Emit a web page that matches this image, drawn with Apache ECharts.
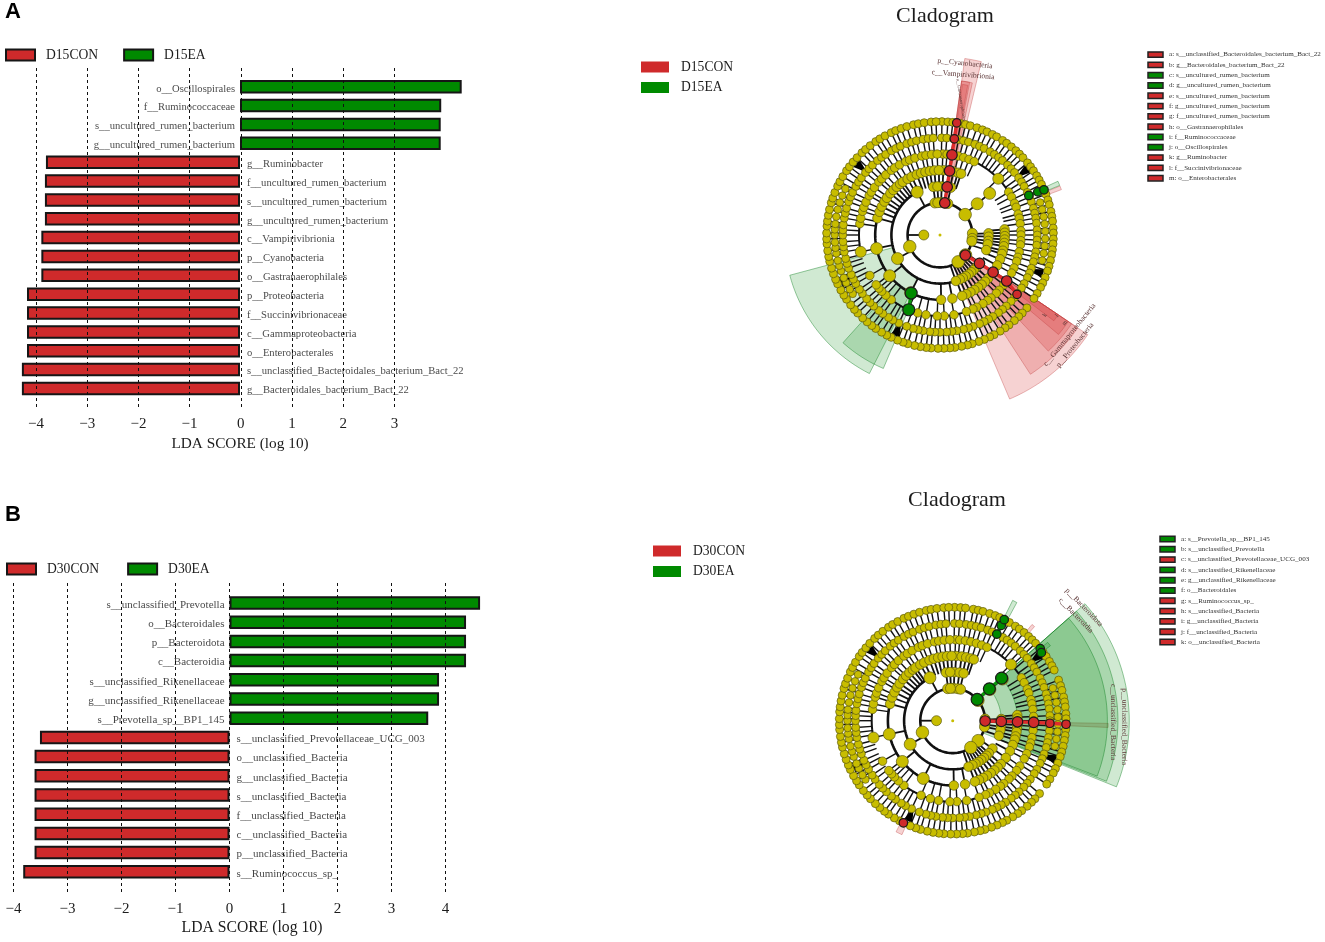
<!DOCTYPE html>
<html>
<head>
<meta charset="utf-8">
<title>LEfSe</title>
<script src="https://cdn.jsdelivr.net/npm/echarts@6/dist/echarts.min.js"></script>
<style>
	html, body { margin: 0; padding: 0; background: #fff; }
	#chart { width: 1325px; height: 942px; }
</style>
</head>
<body>
<div id="chart"></div>
<script>
// LDA bars, panel A
const d15Taxa = ['o__Oscillospirales', 'f__Ruminococcaceae', 's__uncultured_rumen_bacterium', 'g__uncultured_rumen_bacterium', 'g__Ruminobacter', 'f__uncultured_rumen_bacterium', 's__uncultured_rumen_bacterium', 'g__uncultured_rumen_bacterium', 'c__Vampirivibrionia', 'p__Cyanobacteria', 'o__Gastranaerophilales', 'p__Proteobacteria', 'f__Succinivibrionaceae', 'c__Gammaproteobacteria', 'o__Enterobacterales', 's__unclassified_Bacteroidales_bacterium_Bact_22', 'g__Bacteroidales_bacterium_Bact_22'];
const d15Scores = [4.33, 3.93, 3.92, 3.92, -3.79, -3.81, -3.81, -3.81, -3.88, -3.88, -3.88, -4.16, -4.16, -4.16, -4.16, -4.26, -4.26];

// LDA bars, panel B
const d30Taxa = ['s__unclassified_Prevotella', 'o__Bacteroidales', 'p__Bacteroidota', 'c__Bacteroidia', 's__unclassified_Rikenellaceae', 'g__unclassified_Rikenellaceae', 's__Prevotella_sp__BP1_145', 's__unclassified_Prevotellaceae_UCG_003', 'o__unclassified_Bacteria', 'g__unclassified_Bacteria', 's__unclassified_Bacteria', 'f__unclassified_Bacteria', 'c__unclassified_Bacteria', 'p__unclassified_Bacteria', 's__Ruminococcus_sp_'];
const d30Scores = [4.64, 4.38, 4.38, 4.38, 3.88, 3.88, 3.68, -3.51, -3.61, -3.61, -3.61, -3.61, -3.61, -3.61, -3.82];

// cladogram keys
const d15Key = ['a: s__unclassified_Bacteroidales_bacterium_Bact_22', 'b: g__Bacteroidales_bacterium_Bact_22', 'c: s__uncultured_rumen_bacterium', 'd: g__uncultured_rumen_bacterium', 'e: s__uncultured_rumen_bacterium', 'f: g__uncultured_rumen_bacterium', 'g: f__uncultured_rumen_bacterium', 'h: o__Gastranaerophilales', 'i: f__Ruminococcaceae', 'j: o__Oscillospirales', 'k: g__Ruminobacter', 'l: f__Succinivibrionaceae', 'm: o__Enterobacterales'];
const d15KeyGroup = [0, 0, 1, 1, 0, 0, 0, 0, 1, 1, 0, 0, 0];
const d30Key = ['a: s__Prevotella_sp__BP1_145', 'b: s__unclassified_Prevotella', 'c: s__unclassified_Prevotellaceae_UCG_003', 'd: s__unclassified_Rikenellaceae', 'e: g__unclassified_Rikenellaceae', 'f: o__Bacteroidales', 'g: s__Ruminococcus_sp_', 'h: s__unclassified_Bacteria', 'i: g__unclassified_Bacteria', 'j: f__unclassified_Bacteria', 'k: o__unclassified_Bacteria'];
const d30KeyGroup = [1, 1, 0, 1, 1, 1, 0, 0, 0, 0, 0];

// node angles on each cladogram ring (degrees clockwise from the top), same tree in both panels
const ring1 = [270];
const ring2 = [1, 9, 14, 51, 87, 96, 101, 128, 146, 249, 351, 356];
const ring3 = [2, 8, 13, 50, 88, 92, 97, 101, 108, 125, 132, 136, 140, 144, 148, 152, 156, 161, 241, 332, 352, 357];
const ring4 = [3, 8, 12, 16, 19, 50, 85, 88, 91, 94, 97, 100, 104, 107, 112, 118, 125, 132, 136, 140, 144, 148, 152, 156, 160, 169, 179, 207, 231, 258, 285, 291, 296, 301, 305, 310, 314, 318, 322, 325, 330, 334, 339, 343, 347, 351, 355, 359];
const ring5 = [2, 5, 9, 13, 17, 21, 25, 46, 58, 62, 67, 70, 75, 78, 82, 87, 90, 94, 97, 102, 106, 109, 114, 118, 124, 128, 133, 136, 141, 144, 148, 153, 156, 161, 170, 177, 182, 190, 196, 203, 217, 222, 226, 229, 232, 240, 258, 278, 282, 287, 290, 294, 299, 302, 306, 311, 314, 318, 323, 326, 330, 335, 338, 342, 347, 350, 354, 358];
const ring6 = [1, 4, 8, 11, 14, 17, 21, 24, 27, 31, 34, 37, 40, 44, 47, 50, 54, 57, 60, 64, 67, 70, 74, 77, 80, 83, 87, 90, 93, 96, 100, 103, 106, 110, 113, 116, 120, 123, 127, 130, 133, 137, 140, 143, 147, 150, 153, 156, 160, 163, 166, 170, 173, 176, 180, 183, 186, 190, 193, 196, 200, 205, 209, 212, 216, 219, 223, 226, 229, 233, 236, 240, 243, 246, 250, 253, 256, 260, 263, 266, 270, 273, 276, 280, 283, 286, 290, 293, 296, 300, 303, 306, 310, 313, 316, 320, 323, 326, 330, 333, 336, 340, 343, 346, 350, 353, 356];
const ring7 = [1, 4, 6.5, 10.5, 13, 15.5, 19, 22, 24.5, 27.5, 30, 33.5, 36, 39, 42, 44.5, 47, 50.5, 53, 55.5, 58.5, 61, 63.5, 69, 72, 74.5, 78, 80.5, 83, 86.5, 89, 92, 94.5, 97.5, 100, 103, 106, 108.5, 112, 115, 117.5, 121, 124, 130, 133.5, 136, 139, 142.5, 145, 148, 151.5, 154, 157, 160, 163.5, 166, 169, 172.5, 175, 178, 181, 184.5, 187, 190, 193, 196.5, 199, 202, 205.5, 208, 211, 214.5, 217, 220, 223, 226.5, 229, 232, 235.5, 238, 241, 244.5, 247, 250, 253, 256.5, 259, 262, 265.5, 268, 271, 274.5, 277, 280, 283, 286.5, 289, 292, 295.5, 298, 301, 304.5, 307, 310, 313, 316.5, 319, 322, 325.5, 328, 331, 334.5, 337, 340, 343, 346.5, 349, 352, 355.5, 358];
const rings = [ring1, ring2, ring3, ring4, ring5, ring6, ring7];
// second row of leaves just inside the outer ring, left and right sides only
const ring7Lower = [72, 76, 80, 84, 88, 92, 96, 100, 104, 236, 239, 243, 246, 250, 253, 256, 260, 263, 266, 270, 273, 276, 280, 284, 288, 292, 296];

// thick branches along a ring: [ring, from angle, to angle]
const branchArcs = [[2, 14, 87], [2, 101, 146], [2, 146, 351], [3, 161, 332], [3, 88, 108], [3, 125, 161], [4, 177, 301], [4, 85, 118], [5, 26, 46], [5, 46, 70], [5, 160, 232], [5, 258, 289], [6, 0, 360]];
const wedgeAngles = [53, 110.7, 204, 244, 310.6];

// enriched nodes, each list a lineage: [ring, angle]
const d15RedNodes = [
	[[2, 8.5], [3, 8.5], [4, 8.5], [5, 8.5], [6, 8.5], [7, 8.5]],
	[[2, 128.5], [3, 125.7], [4, 125], [5, 124.6], [6, 127.6]],
];
const d15GreenNodes = [
	[[4, 206.4], [5, 202.7]],
	[[6, 66], [6.6, 66.2], [7, 66.5]],
];
const d30RedNodes = [
	[[2, 90.5], [3, 90.8], [4, 91], [5, 91.2], [6, 91.5], [7, 91.8]],
	[[7, 205.8]],
];
const d30GreenNodes = [
	[[2, 49], [3, 49], [4, 49]],
	[[6, 27], [6.6, 27], [7, 27]],
	[[7, 50.5], [6.9, 52.5]],
];

// shaded clades: [inner ring, outer ring, from angle, to angle]
const d15RedClades = [[2, 11, 124, 157], [3, 10.25, 124, 147], [4, 9.8, 124, 137], [5, 9.55, 124, 130], [6, 8.8, 124, 127], [2, 11, 8, 13.4], [3, 9.6, 8, 12], [5, 9.6, 8, 11], [6, 9.4, 8.5, 10.5], [7, 8, 67.8, 69.5]];
const d15GreenClades = [[3, 9.6, 207, 255], [4, 8.95, 203, 222], [7, 8, 65.5, 67.5]];
const d30RedClades = [[2, 9.6, 91, 92.5], [7, 7.7, 39.5, 41], [7, 7.7, 204, 207]];
const d30GreenClades = [[2, 10.9, 48.5, 112], [3, 10.2, 48.5, 111.5], [4, 9.55, 48.5, 111], [6.9, 8.3, 26.5, 28.5], [7, 7.6, 50.5, 52.5]];

// clade names along the sectors
const d15CladeText = ['p__Cyanobacteria', 'c__Vampirivibrionia', 'o__Gastranaerophilales', 'p__Proteobacteria', 'c__Gammaproteobacteria', 'k', 'l', 'm'];
const d15CladeAt = [[10.7, 8.3], [10, 8.2], [8.45, 8.8], [10.75, 129.2], [10.1, 127.6], [8.15, 127.3], [8.78, 124.7], [9.43, 125.2]];
const d15CladeTurn = [-0.1, -0.08, -1.42, 0.89, 0.89, 0.9, 0.9, 0.9];
const d30CladeText = ['p__Bacteroidota', 'c__Bacteroidia', 'p__unclassified_Bacteria', 'c__unclassified_Bacteria'];
const d30CladeAt = [[10.7, 49.2], [10, 49.5], [10.6, 92], [9.9, 90.5]];
const d30CladeTurn = [-0.8, -0.8, -1.57, -1.57];

const SERIF = '"Liberation Serif", serif';
const RED = '#cf2a2b';
const GREEN = '#008a00';
const YELLOW = '#c8bd00';
const RING_PX = 16.2;
const RING_MAX = 12;
const RING_SIZE = [10, 10, 9.5, 9.5, 8.5, 8, 8];

function arcPoints(api, ring, from, to) {
	const points = [];
	for (let a = from; a < to; a += 2) points.push(api.coord([ring, a]));
	points.push(api.coord([ring, to]));
	return points;
}

function renderClade(fill, stroke) {
	return (params, api) => {
		const inner = arcPoints(api, api.value(0), api.value(2), api.value(3));
		const outer = arcPoints(api, api.value(1), api.value(2), api.value(3)).reverse();
		return {
			type: 'polygon',
			shape: { points: inner.concat(outer) },
			style: { fill, stroke, lineWidth: 0.8 },
		};
	};
}

function renderSpoke(params, api) {
	const ring = api.value(1);
	const p0 = api.coord([api.value(0), api.value(2)]);
	const p1 = api.coord([ring, api.value(2)]);
	return {
		type: 'line',
		shape: { x1: p0[0], y1: p0[1], x2: p1[0], y2: p1[1] },
		style: { stroke: '#111', lineWidth: ring <= 4 ? 1.8 : 1.4 },
	};
}

function renderArc(params, api) {
	const ring = api.value(0);
	return {
		type: 'polyline',
		shape: { points: arcPoints(api, ring, api.value(1), api.value(2)) },
		style: { stroke: '#111', fill: null, lineWidth: ring <= 4 ? 2.6 : (ring === 5 ? 2 : 1) },
	};
}

function renderWedge(params, api) {
	const a = api.value(0);
	return {
		type: 'polygon',
		shape: { points: [api.coord([5.9, a]), api.coord([6.8, a - 2.4]), api.coord([6.8, a + 2.4])] },
		style: { fill: '#000' },
	};
}

function renderLink(color) {
	return (params, api) => {
		const p0 = api.coord([api.value(0), api.value(1)]);
		const p1 = api.coord([api.value(2), api.value(3)]);
		return {
			type: 'line',
			shape: { x1: p0[0], y1: p0[1], x2: p1[0], y2: p1[1] },
			style: { stroke: color, lineWidth: 3.4 },
		};
	};
}

function renderCladeText(texts, turns, fill) {
	return (params, api) => {
		const p = api.coord([api.value(0), api.value(1)]);
		const text = texts[params.dataIndex];
		return {
			type: 'text',
			x: p[0],
			y: p[1],
			rotation: turns[params.dataIndex],
			style: {
				text,
				fill,
				fontFamily: SERIF,
				fontSize: text.length < 2 ? 6 : (text.startsWith('o__') ? 4.5 : 7.6),
				align: 'center',
				verticalAlign: 'middle',
			},
		};
	};
}

// bigger circles where a node stands alone on its ring
function yellowNodes() {
	const out = [];
	rings.forEach((ring, i) => {
		const sorted = ring.slice().sort((a, b) => a - b);
		sorted.forEach((a, j) => {
			const prev = sorted[(j + sorted.length - 1) % sorted.length];
			const next = sorted[(j + 1) % sorted.length];
			const gap = Math.min((a - prev + 360) % 360, (next - a + 360) % 360);
			const size = i > 0 && i < 5 && gap > 10 ? RING_SIZE[i] + 2.5 : RING_SIZE[i];
			out.push({ value: [i + 1, a], symbolSize: size });
		});
	});
	ring7Lower.forEach((a) => out.push({ value: [6.5, a], symbolSize: 7.5 }));
	return out;
}

function spokes() {
	const out = [[1, 2, 270]];
	rings.forEach((ring, i) => {
		if (i < 2) return;
		ring.forEach((a) => out.push([i, i + 1, a]));
	});
	return out;
}

function links(lineages) {
	const out = [];
	lineages.forEach((nodes) => {
		for (let i = 1; i < nodes.length; i++) out.push([nodes[i - 1][0], nodes[i - 1][1], nodes[i][0], nodes[i][1]]);
	});
	return out;
}

function cladogram(polarIndex, conName, eaName, p) {
	const polar = { coordinateSystem: 'polar', polarIndex, silent: true };
	const custom = (renderItem, data, z) => ({ ...polar, type: 'custom', renderItem, data, z, animation: false });
	const enriched = (name, color, lineages, big) => ({
		...polar,
		name,
		type: 'scatter',
		z: 6,
		itemStyle: { color, borderColor: '#1a1a1a', borderWidth: 1.2, opacity: 1 },
		data: lineages.flat().map((n) => ({
			value: n,
			symbolSize: n[0] <= 5 ? big : 8.5,
		})),
	});
	return [
		custom(renderClade('rgba(215,50,50,0.22)', 'rgba(190,60,60,0.45)'), p.redClades, 1),
		custom(renderClade('rgba(20,145,30,0.2)', 'rgba(0,120,20,0.5)'), p.greenClades, 1),
		custom(renderSpoke, spokes(), 2),
		custom(renderArc, branchArcs, 2),
		custom(renderWedge, wedgeAngles.map((a) => [a]), 3),
		{
			...polar,
			type: 'scatter',
			z: 4,
			itemStyle: { color: YELLOW, borderColor: '#5c5a10', borderWidth: 0.7, opacity: 1 },
			data: yellowNodes(),
		},
		{
			...polar,
			type: 'scatter',
			z: 4,
			symbolSize: 3,
			itemStyle: { color: YELLOW, opacity: 1 },
			data: [[0, 0]],
		},
		custom(renderLink('#e02b2c'), links(p.red), 5),
		custom(renderLink('#0c960c'), links(p.green), 5),
		enriched(conName, RED, p.red, 10.5),
		enriched(eaName, GREEN, p.green, 12),
		custom(renderCladeText(p.text, p.turn, '#5b3535'), p.at, 7),
	];
}

function barSeries(gridAxis, taxa, scores, conName, eaName, fontSize) {
	const bar = (name, color, keep) => ({
		name,
		type: 'bar',
		xAxisIndex: gridAxis,
		yAxisIndex: gridAxis,
		stack: name.slice(0, 3),
		barWidth: 13.5,
		z: 2,
		silent: true,
		itemStyle: { color, borderColor: '#161616', borderWidth: 2 },
		data: scores.map((v) => (keep(v) ? v : null)),
	});
	return [
		bar(conName, RED, (v) => v < 0),
		bar(eaName, GREEN, (v) => v > 0),
		{
			type: 'scatter',
			xAxisIndex: gridAxis,
			yAxisIndex: gridAxis,
			symbolSize: 0,
			z: 3,
			silent: true,
			data: taxa.map((t, i) => ({
				value: [0, i],
				label: {
					show: true,
					formatter: t,
					position: scores[i] > 0 ? 'left' : 'right',
					distance: scores[i] > 0 ? 5 : 7,
					offset: [0, 2],
					color: '#141414',
					fontFamily: SERIF,
					fontSize,
				},
			})),
		},
	];
}

function keyGraphics(keys, groups, left, top) {
	const out = [];
	keys.forEach((k, i) => {
		const y = top + i * 10.3;
		out.push({
			type: 'rect',
			shape: { x: left, y: y - 2.7, width: 15, height: 5.4 },
			style: { fill: groups[i] ? GREEN : RED, stroke: '#222', lineWidth: 1.5 },
		});
		out.push({
			type: 'text',
			x: left + 21,
			y,
			style: { text: k, fill: '#333', fontFamily: SERIF, fontSize: 7.1, verticalAlign: 'middle' },
		});
	});
	return out;
}

const legendText = { color: '#1c1c1c', fontFamily: SERIF, fontSize: 13.6, padding: [0, 0, 0, 6] };
const hiddenAxis = { show: false };

// grids 0/1 hold the bars, 2/3 only carry the dashed scale that runs over the bars
const grids = [
	{ left: 9.6, width: 460.8, top: 77.3, height: 320.6 },
	{ left: 2.7, width: 498.6, top: 593.4, height: 288 },
	{ left: 36, width: 358.4, top: 68, height: 339 },
	{ left: 13.5, width: 432, top: 583, height: 309 },
];

function barX(min, max, gridIndex, gap, fontSize) {
	return {
		type: 'value',
		gridIndex,
		min,
		max,
		name: 'LDA SCORE (log 10)',
		nameLocation: 'middle',
		nameGap: gap,
		nameTextStyle: { color: '#1c1c1c', fontFamily: SERIF, fontSize },
		axisLine: { show: false },
		axisTick: { show: false },
		axisLabel: { show: false },
		splitLine: { show: false },
	};
}

function scaleX(min, max, gridIndex) {
	return {
		type: 'value',
		gridIndex,
		min,
		max,
		interval: 1,
		z: 8,
		axisLine: { show: false },
		axisTick: { show: false },
		axisLabel: {
			color: '#1c1c1c',
			fontFamily: SERIF,
			fontSize: 15,
			margin: 10,
			formatter: (v) => String(v).replace('-', '\u2212'),
		},
		splitLine: { show: true, lineStyle: { color: '#111', width: 1, type: [3, 3] } },
	};
}

const option = {
	animation: false,
	backgroundColor: '#fff',
	title: [
		{ text: 'A', left: 0, top: -4, textStyle: { fontFamily: '"Liberation Sans"', fontSize: 22, fontWeight: 'bold', color: '#000' } },
		{ text: 'B', left: 0, top: 499, textStyle: { fontFamily: '"Liberation Sans"', fontSize: 22, fontWeight: 'bold', color: '#000' } },
		{ text: 'Cladogram', left: 940, top: 0, textAlign: 'center', textStyle: { fontFamily: SERIF, fontSize: 22, fontWeight: 'normal', color: '#1c1c1c' } },
		{ text: 'Cladogram', left: 952, top: 484, textAlign: 'center', textStyle: { fontFamily: SERIF, fontSize: 22, fontWeight: 'normal', color: '#1c1c1c' } },
	],
	legend: [
		{ data: ['D15CON', 'D15EA'], padding: 0, left: 5, top: 48, itemWidth: 29, itemHeight: 11, itemGap: 25, icon: 'rect', textStyle: legendText, selectedMode: false, itemStyle: { borderColor: '#161616', borderWidth: 2 } },
		{ data: ['D30CON', 'D30EA'], padding: 0, left: 6, top: 562, itemWidth: 29, itemHeight: 11, itemGap: 28, icon: 'rect', textStyle: legendText, selectedMode: false, itemStyle: { borderColor: '#161616', borderWidth: 2 } },
		{ data: ['D15CON', 'D15EA'], padding: 0, orient: 'vertical', left: 641, top: 60, itemWidth: 28, itemHeight: 11, itemGap: 6.5, icon: 'rect', textStyle: { ...legendText, padding: [0, 0, 0, 7] }, selectedMode: false, itemStyle: { borderWidth: 0 } },
		{ data: ['D30CON', 'D30EA'], padding: 0, orient: 'vertical', left: 653, top: 544, itemWidth: 28, itemHeight: 11, itemGap: 6.5, icon: 'rect', textStyle: { ...legendText, padding: [0, 0, 0, 7] }, selectedMode: false, itemStyle: { borderWidth: 0 } },
	],
	grid: grids,
	xAxis: [
		barX(-4.5, 4.5, 0, 39, 15.3),
		barX(-4.2, 5.033, 1, 38, 15.7),
		scaleX(-4, 3, 2),
		scaleX(-4, 4, 3),
	],
	yAxis: [
		{ type: 'category', gridIndex: 0, inverse: true, data: d15Taxa, ...hiddenAxis },
		{ type: 'category', gridIndex: 1, inverse: true, data: d30Taxa, ...hiddenAxis },
		{ type: 'value', gridIndex: 2, ...hiddenAxis },
		{ type: 'value', gridIndex: 3, ...hiddenAxis },
	],
	polar: [
		{ center: [940, 235], radius: RING_PX * RING_MAX },
		{ center: [952.7, 720.7], radius: RING_PX * RING_MAX },
	],
	angleAxis: [
		{ polarIndex: 0, type: 'value', min: 0, max: 360, startAngle: 90, clockwise: true, show: false },
		{ polarIndex: 1, type: 'value', min: 0, max: 360, startAngle: 90, clockwise: true, show: false },
	],
	radiusAxis: [
		{ polarIndex: 0, type: 'value', min: 0, max: RING_MAX, show: false },
		{ polarIndex: 1, type: 'value', min: 0, max: RING_MAX, show: false },
	],
	graphic: { elements: keyGraphics(d15Key, d15KeyGroup, 1148, 54.6).concat(keyGraphics(d30Key, d30KeyGroup, 1160, 539)) },
	series: [
		...barSeries(0, d15Taxa, d15Scores, 'D15CON', 'D15EA', 10.6),
		...barSeries(1, d30Taxa, d30Scores, 'D30CON', 'D30EA', 11),
		...cladogram(0, 'D15CON', 'D15EA', {
			red: d15RedNodes,
			green: d15GreenNodes,
			redClades: d15RedClades,
			greenClades: d15GreenClades,
			text: d15CladeText,
			at: d15CladeAt,
			turn: d15CladeTurn,
		}),
		...cladogram(1, 'D30CON', 'D30EA', {
			red: d30RedNodes,
			green: d30GreenNodes,
			redClades: d30RedClades,
			greenClades: d30GreenClades,
			text: d30CladeText,
			at: d30CladeAt,
			turn: d30CladeTurn,
		}),
	],
};

const chart = echarts.init(document.getElementById('chart'));
chart.setOption(option);
</script>
</body>
</html>
